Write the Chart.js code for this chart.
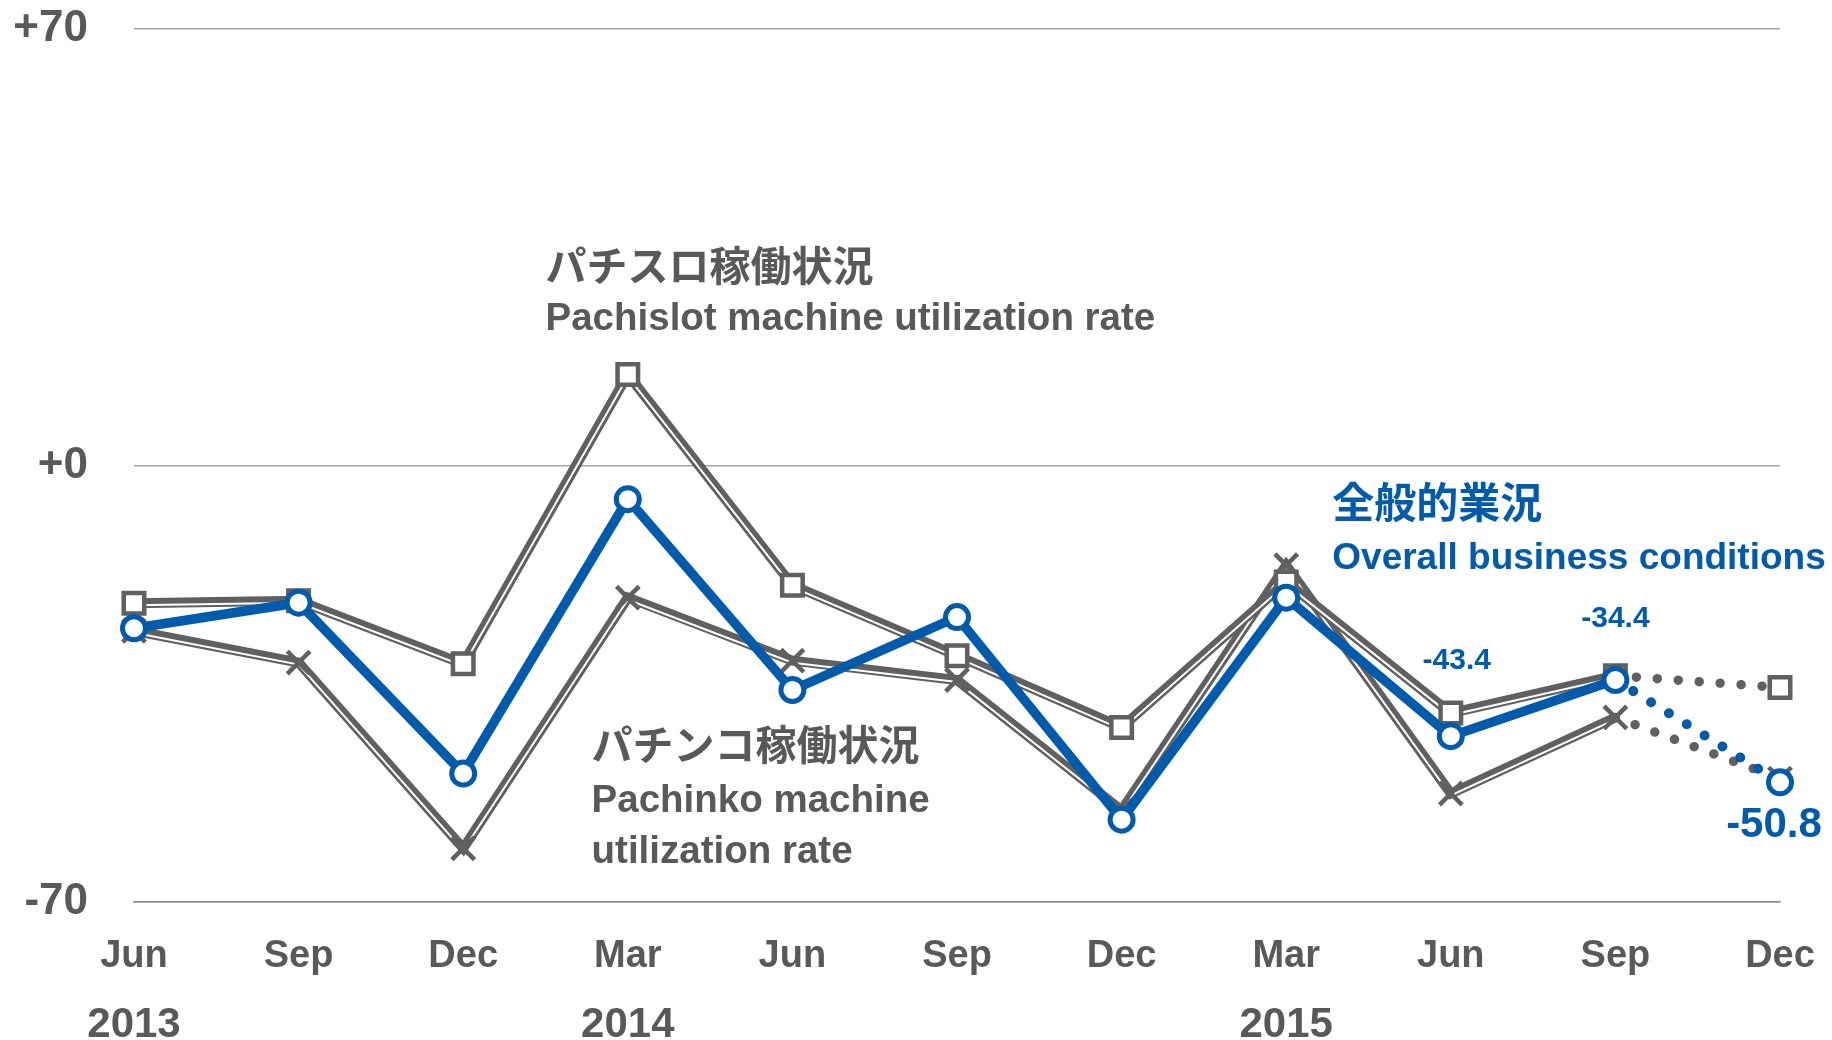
<!DOCTYPE html>
<html lang="ja">
<head>
  <meta charset="UTF-8">
  <title>Pachinko hall business conditions</title>
  <script src="https://cdn.jsdelivr.net/npm/chart.js"></script>
  <style>
    body, html {
      margin: 0;
      padding: 0;
      overflow: hidden;
      background: #fff;
    }
    canvas {
      display: block;
    }
  </style>
</head>
<body>
  <canvas id="chart" width="1832" height="1040"></canvas>

  <script>
    // Quarterly survey, Jun 2013 - Dec 2015 (Dec 2015 = outlook)
    const months = ['Jun', 'Sep', 'Dec', 'Mar', 'Jun', 'Sep', 'Dec', 'Mar', 'Jun', 'Sep', 'Dec'];
    const years = ['2013', '', '', '2014', '', '', '', '2015', '', '', ''];
    const yTicks = [-70, 0, 70];

    const overall = [-26.1, -22.0, -49.4, -5.4, -36.0, -24.3, -56.8, -21.2, -43.4, -34.4, -50.8];
    const pachislot = [-22.1, -21.7, -31.8, 14.6, -19.2, -30.5, -42.0, -18.7, -39.7, -33.7, -35.6];
    const pachinko = [-26.5, -31.6, -61.4, -21.2, -31.3, -34.4, -55.3, -16.0, -52.6, -40.4, -50.2];

    const BLUE = '#005bac';
    const GRAY = '#606060';
    const TEXT_GRAY = '#595959';
    const FONT = '"Liberation Sans", "Noto Sans CJK JP", sans-serif';
    const lastIdx = months.length - 1;

    // last segment (Sep -> Dec 2015) is the forecast, drawn dotted
    const isForecast = ctx => ctx.p1DataIndex === lastIdx;
    const dotted = (width) => ({
      borderWidth: ctx => isForecast(ctx) ? width : undefined,
      borderDash: ctx => isForecast(ctx) ? [0, 21] : undefined,
      borderCapStyle: ctx => isForecast(ctx) ? 'round' : undefined
    });

    // gray series = thick gray line + thin white line (shifted down, thick-thin look) + markers on top
    function graySeries(data, style, radius, order) {
      return [
        {
          data: data, borderColor: GRAY, borderWidth: 10, pointRadius: 0,
          order: order + 2, clip: false, segment: dotted(9.5)
        },
        {
          data: data, borderColor: '#fff', borderWidth: 2, pointRadius: 0,
          order: order + 1, clip: false, inset: 2,
          segment: { borderColor: ctx => isForecast(ctx) ? 'rgba(0,0,0,0)' : undefined }
        },
        {
          data: data, showLine: false, pointStyle: style, pointRadius: radius,
          pointBorderWidth: 4.5, pointBorderColor: GRAY, pointBackgroundColor: '#fff',
          order: order, clip: false
        }
      ];
    }

    // shift the white inner lines a little so the double line is thick on top, thin below
    const insetPlugin = {
      id: 'inset',
      beforeDatasetDraw(chart, args) {
        const ds = chart.data.datasets[args.index];
        chart.ctx.save();
        if (ds.inset) chart.ctx.translate(0, ds.inset);
      },
      afterDatasetDraw(chart) {
        chart.ctx.restore();
      }
    };

    const labelPlugin = {
      id: 'labels',
      afterDatasetsDraw(chart) {
        const { ctx, scales: { x, y } } = chart;
        const put = (text, i, v, font, color, align) => {
          ctx.font = font;
          ctx.fillStyle = color;
          ctx.textAlign = align || 'left';
          ctx.fillText(text, x.getPixelForValue(i), y.getPixelForValue(v));
        };
        ctx.save();
        ctx.textBaseline = 'middle';

        put('パチスロ稼働状況', 2.5, 31.4, 'bold 41px ' + FONT, TEXT_GRAY);
        put('Pachislot machine utilization rate', 2.5, 23.4, 'bold 38.5px ' + FONT, TEXT_GRAY);

        put('パチンコ稼働状況', 2.78, -45.4, 'bold 41px ' + FONT, TEXT_GRAY);
        put('Pachinko machine', 2.78, -53.9, 'bold 38.5px ' + FONT, TEXT_GRAY);
        put('utilization rate', 2.78, -62.1, 'bold 38.5px ' + FONT, TEXT_GRAY);

        put('全般的業況', 7.28, -6.6, 'bold 42px ' + FONT, BLUE);
        put('Overall business conditions', 7.28, -14.9, 'bold 37px ' + FONT, BLUE);

        // value labels for the latest quarters
        const px = i => x.getPixelForValue(i);
        const py = i => y.getPixelForValue(overall[i]);
        ctx.fillStyle = BLUE;
        ctx.textAlign = 'center';
        ctx.font = 'bold 30px ' + FONT;
        ctx.fillText(overall[8].toFixed(1), px(8) + 6, py(8) - 75);
        ctx.fillText(overall[9].toFixed(1), px(9), py(9) - 61);
        ctx.font = 'bold 42px ' + FONT;
        ctx.fillText(overall[10].toFixed(1), px(10) - 6, py(10) + 43);
        ctx.restore();
      }
    };

    // fixed axis sizes; drop the label overhang padding so the plot area stays put
    const fixHeight = h => s => { s.height = h; s.paddingLeft = 0; s.paddingRight = 0; };

    const ctx = document.getElementById('chart').getContext('2d');
    new Chart(ctx, {
      type: 'line',
      data: {
        labels: months,
        datasets: [
          {
            data: overall, borderColor: BLUE, borderWidth: 9.5,
            pointStyle: 'circle', pointRadius: 11.5, pointBorderWidth: 5,
            pointBorderColor: BLUE, pointBackgroundColor: '#fff',
            order: 0, clip: false, segment: dotted(10)
          },
          ...graySeries(pachislot, 'rect', 14.5, 1),
          ...graySeries(pachinko, 'crossRot', 16, 4)
        ]
      },
      options: {
        responsive: false,
        devicePixelRatio: 1,
        animation: false,
        layout: { padding: { top: 29, right: 52, left: 0, bottom: 0 } },
        scales: {
          x: {
            offset: false,
            grid: { display: false, drawTicks: false },
            border: { display: true, color: '#8c8c8c', width: 1.5 },
            ticks: {
              autoSkip: false, maxRotation: 0, padding: 32, color: TEXT_GRAY,
              font: { family: FONT, size: 38, weight: 'bold' }
            },
            afterFit: fixHeight(80)
          },
          x2: {
            type: 'category',
            labels: years,
            position: 'bottom',
            offset: false,
            grid: { display: false, drawTicks: false },
            border: { display: false },
            ticks: {
              autoSkip: false, maxRotation: 0, padding: 18, color: TEXT_GRAY,
              font: { family: FONT, size: 42, weight: 'bold' }
            },
            afterFit: fixHeight(58)
          },
          y: {
            min: yTicks[0],
            max: yTicks[yTicks.length - 1],
            afterBuildTicks: s => { s.ticks = yTicks.map(v => ({ value: v })); },
            grid: { color: '#a6a6a6', lineWidth: 1.5, drawTicks: false },
            border: { display: false },
            ticks: {
              padding: 46, color: TEXT_GRAY,
              font: { family: FONT, size: 44, weight: 'bold' },
              callback: v => (v >= 0 ? '+' : '') + v
            },
            afterFit: s => { s.width = 134; s.paddingTop = 0; s.paddingBottom = 0; }
          }
        },
        plugins: {
          legend: { display: false },
          tooltip: { enabled: false }
        }
      },
      plugins: [insetPlugin, labelPlugin]
    });
  </script>
</body>
</html>
